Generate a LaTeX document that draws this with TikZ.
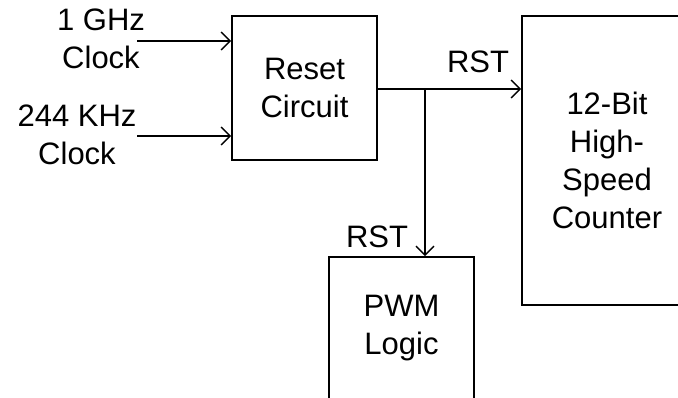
\documentclass[tikz,border=0pt]{standalone}
\usepackage{fontspec}
\setmainfont{Liberation Sans}
\usetikzlibrary{arrows.meta}

\tikzset{
	block/.style={draw, line width=1.6pt, inner sep=0pt, align=center},
	sig/.style={line width=1.6pt, -{Straight Barb[length=9pt,width=18pt,line width=1.4pt]}},
	lbl/.style={inner sep=0pt, align=center}
}

\begin{document}
\begin{tikzpicture}[x=1pt, y=-1pt, font=\fontsize{31}{38}\selectfont]
		\clip (0,0) rectangle (678,398);
		
		% Blocks
		\node[block, minimum width=145pt, minimum height=144pt] (reset) at (304.5,88) {Reset\\Circuit};
		\node[block, minimum width=170pt, minimum height=289pt] (counter) at (607,160.5) {12-Bit\\High-\\Speed\\Counter};
		\node[block, minimum width=145pt, minimum height=142pt] (pwm) at (401.5,328) {PWM\\Logic};
		
		% Clock inputs
		\coordinate (clkA) at (137,41);
		\coordinate (clkB) at (137,136);
		\node[lbl] (ghz) at (101,39) {1 GHz\\Clock};
		\node[lbl] (khz) at (77,135) {244 KHz\\Clock};
		\draw[sig] (clkA) -- (clkA -| reset.west);
		\draw[sig] (clkB) -- (clkB -| reset.west);
		
		% Reset lines
		\coordinate (split) at (425,89);
		\draw[sig] (reset.east |- split) -- (split -| counter.west);
		\draw[sig] (split) -- (split |- pwm.north);
		\node[lbl, anchor=base] (rstA) at (478,73) {RST};
		\node[lbl, anchor=base] (rstB) at (377,248) {RST};
	\end{tikzpicture}
\end{document}
